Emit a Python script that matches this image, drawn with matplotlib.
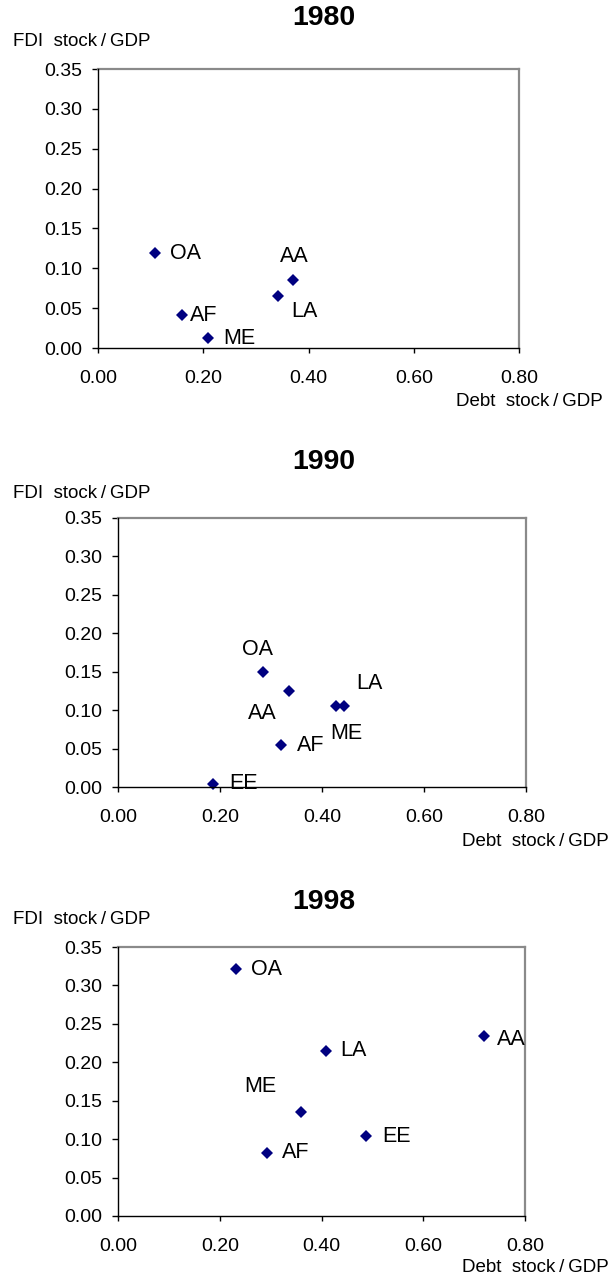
import matplotlib
matplotlib.use('Agg')
import matplotlib.pyplot as plt
from matplotlib.ticker import FormatStrFormatter

plt.rcParams['font.family'] = ['Liberation Sans', 'DejaVu Sans']

# data
years = ['1980', '1990', '1998']

regions_1980 = ['OA', 'AA', 'LA', 'AF', 'ME']
debt_1980 = [0.108, 0.371, 0.342, 0.159, 0.209]
fdi_1980 = [0.119, 0.085, 0.065, 0.041, 0.012]

regions_1990 = ['OA', 'AA', 'LA', 'ME', 'AF', 'EE']
debt_1990 = [0.284, 0.336, 0.443, 0.427, 0.319, 0.186]
fdi_1990 = [0.149, 0.125, 0.106, 0.106, 0.054, 0.004]

regions_1998 = ['OA', 'AA', 'LA', 'ME', 'EE', 'AF']
debt_1998 = [0.231, 0.720, 0.408, 0.360, 0.487, 0.293]
fdi_1998 = [0.321, 0.234, 0.215, 0.135, 0.104, 0.082]

x_ticks = [0.0, 0.2, 0.4, 0.6, 0.8]
y_ticks = [0.0, 0.05, 0.10, 0.15, 0.20, 0.25, 0.30, 0.35]

# layout (pixels), label offsets (pixels, dx, dy, ha)
W, H = 610, 1281
panels = [
    dict(box=(98, 69, 519, 348), title_y=18, ylab_y=42, xlab=(603, 402),
         names=regions_1980, x=debt_1980, y=fdi_1980,
         offs=[(15, 0, 'left'), (1, 24, 'center'), (13, -15, 'left'),
               (8, 0, 'left'), (15, 0, 'left')]),
    dict(box=(118, 518, 526, 787), title_y=462, ylab_y=493, xlab=(609, 842),
         names=regions_1990, x=debt_1990, y=fdi_1990,
         offs=[(-5, 23, 'center'), (-27, -23, 'center'), (26, 22, 'center'),
               (11, -28, 'center'), (16, 0, 'left'), (16, 0, 'left')]),
    dict(box=(118, 947, 525, 1216), title_y=902, ylab_y=920, xlab=(609, 1268),
         names=regions_1998, x=debt_1998, y=fdi_1998,
         offs=[(15, 0, 'left'), (13, -3, 'left'), (15, 0, 'left'),
               (-41, 26, 'center'), (16, 0, 'left'), (15, 0, 'left')]),
]

fig = plt.figure(figsize=(W / 100, H / 100), dpi=100)

for yr, p in zip(years, panels):
    l, t, r, b = p['box']
    ax = fig.add_axes([l / W, 1 - b / H, (r - l) / W, (b - t) / H])
    ax.plot(p['x'], p['y'], 'D', color='#000080', markersize=6.4, markeredgewidth=0, clip_on=False)
    for name, xv, yv, (dx, dy, ha) in zip(p['names'], p['x'], p['y'], p['offs']):
        ax.annotate(name, (xv, yv), xytext=(dx, dy), textcoords='offset pixels',
                    ha=ha, va='center', fontsize=15.5)
    ax.set_xlim(0, 0.8)
    ax.set_ylim(0, 0.35)
    ax.set_xticks(x_ticks)
    ax.set_yticks(y_ticks)
    ax.xaxis.set_major_formatter(FormatStrFormatter('%.2f'))
    ax.yaxis.set_major_formatter(FormatStrFormatter('%.2f'))
    ax.tick_params(axis='x', direction='out', length=3.6, width=1, pad=12, labelsize=14)
    ax.tick_params(axis='y', direction='out', length=4.3, width=1, pad=7, labelsize=14)
    for s in ['top', 'right']:
        ax.spines[s].set_color('#8a8a8a')
        ax.spines[s].set_linewidth(1.6)
    for s in ['left', 'bottom']:
        ax.spines[s].set_color('black')
        ax.spines[s].set_linewidth(1)
    ax.spines['left'].set_zorder(3)
    fig.text(324 / W, 1 - p['title_y'] / H, yr, ha='center', va='center',
             fontsize=20.5, fontweight='bold')
    fig.text(13 / W, 1 - p['ylab_y'] / H, 'FDI  stock\u2009/\u2009GDP', ha='left', va='center',
             fontsize=13.5)
    fig.text(p['xlab'][0] / W, 1 - p['xlab'][1] / H, 'Debt  stock\u2009/\u2009GDP',
             ha='right', va='center', fontsize=13.5)

fig.savefig('out.png', dpi=100)
